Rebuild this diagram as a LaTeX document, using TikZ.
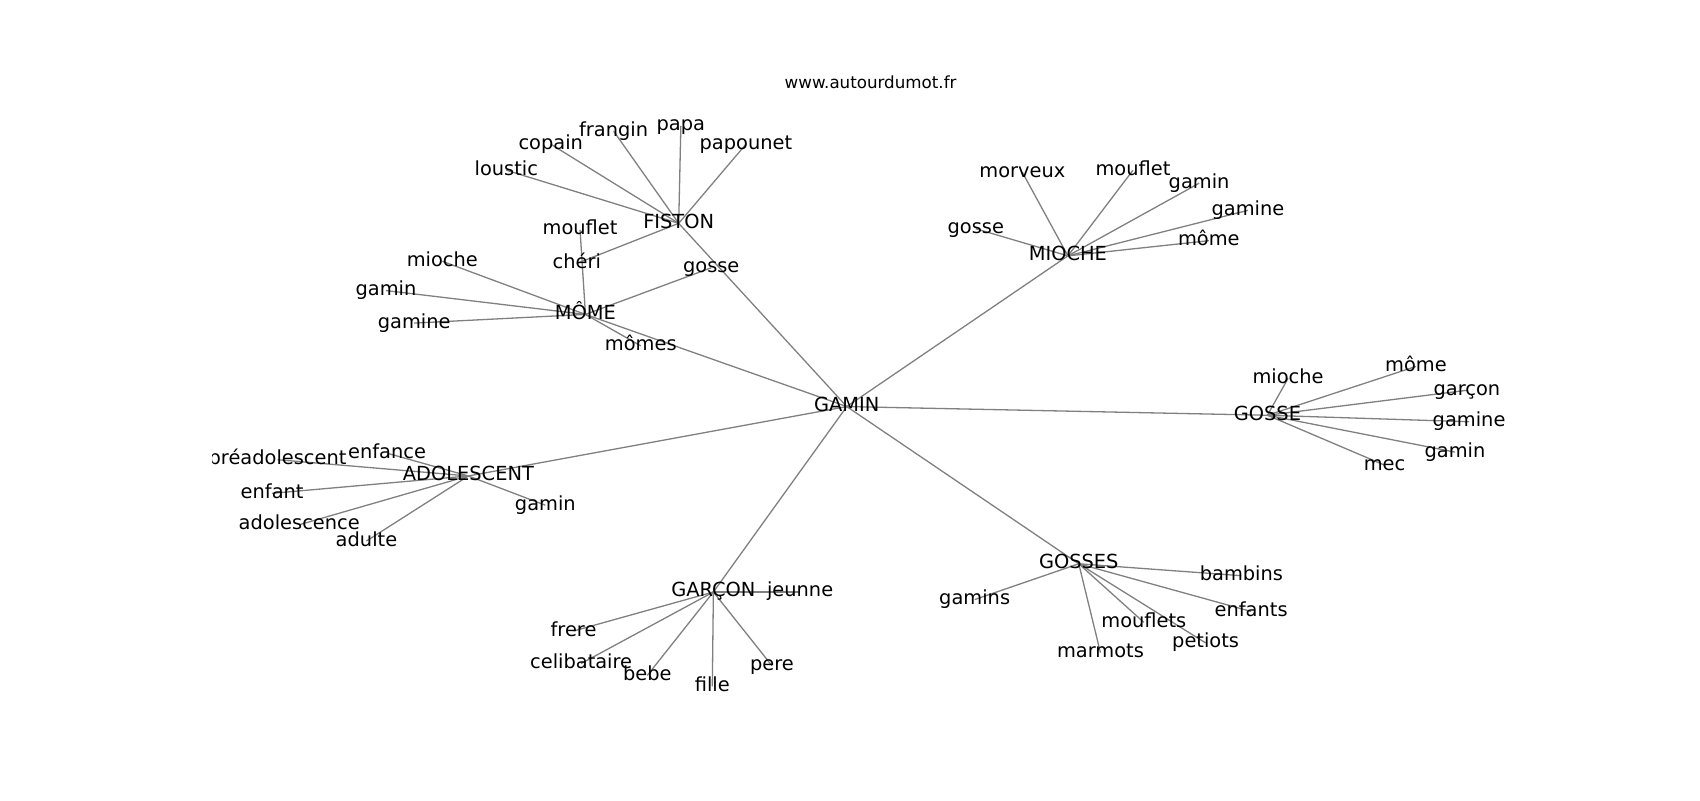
\documentclass[tikz,border=0pt]{standalone}
\usepackage{fontspec}
\setmainfont{DejaVu Sans}
\begin{document}
\begin{tikzpicture}[x=1.0842pt,y=-1.0842pt,
  edge/.style={draw={rgb,255:red,128;green,128;blue,128},line width=1.3pt},
  lab/.style={anchor=base,inner sep=0pt,yshift=-5pt,font=\fontsize{19.4}{23}\selectfont},
  ttl/.style={anchor=base,inner sep=0pt,yshift=-4.3pt,font=\fontsize{16.7}{20}\selectfont}]
\useasboundingbox (0,0) rectangle (1568,738);
% points
\coordinate (GAMIN) at (781,375);
\coordinate (FISTON) at (626,206);
\coordinate (loustic) at (467,157);
\coordinate (copain) at (508,133);
\coordinate (frangin) at (566,121);
\coordinate (papa) at (628,116);
\coordinate (papounet) at (688,133);
\coordinate (cheri) at (532,243);
\coordinate (MOME) at (540,290);
\coordinate (mouflet1) at (535,212);
\coordinate (mioche1) at (408,241);
\coordinate (gamin1) at (356,268);
\coordinate (gamine1) at (382,298);
\coordinate (momes) at (591,319);
\coordinate (gosse1) at (656,247);
\coordinate (MIOCHE) at (985,236);
\coordinate (morveux) at (943,159);
\coordinate (mouflet2) at (1045,157);
\coordinate (gamin2) at (1106,169);
\coordinate (gamine2) at (1151,194);
\coordinate (mome2) at (1115,222);
\coordinate (gosse2) at (900,211);
\coordinate (GOSSE) at (1169,383);
\coordinate (mioche3) at (1188,349);
\coordinate (mome3) at (1306,338);
\coordinate (garcon3) at (1353,360);
\coordinate (gamine3) at (1355,389);
\coordinate (gamin3) at (1342,417);
\coordinate (mec) at (1277,429);
\coordinate (GOSSES) at (995,520);
\coordinate (gamins) at (899,553);
\coordinate (bambins) at (1145,531);
\coordinate (enfants) at (1154,564);
\coordinate (mouflets) at (1055,574);
\coordinate (petiots) at (1112,593);
\coordinate (marmots) at (1015,602);
\coordinate (GARCON) at (658,546);
\coordinate (jeunne) at (738,546);
\coordinate (frere) at (529,582);
\coordinate (celibataire) at (536,612);
\coordinate (bebe) at (597,623);
\coordinate (fille) at (657,633);
\coordinate (pere) at (712,614);
\coordinate (ADO) at (432,439);
\coordinate (preado) at (256,424);
\coordinate (enfance) at (357,418);
\coordinate (enfant) at (251,455);
\coordinate (adolescence) at (276,484);
\coordinate (adulte) at (338,499);
\coordinate (gamin4) at (503,466);
% edges
\foreach \h in {FISTON,MOME,MIOCHE,GOSSE,GOSSES,GARCON,ADO}
  \draw[edge] (GAMIN) -- (\h);
\foreach \c in {loustic,copain,frangin,papa,papounet,cheri}
  \draw[edge] (FISTON) -- (\c);
\foreach \c in {mouflet1,mioche1,gamin1,gamine1,momes,gosse1}
  \draw[edge] (MOME) -- (\c);
\foreach \c in {morveux,mouflet2,gamin2,gamine2,mome2,gosse2}
  \draw[edge] (MIOCHE) -- (\c);
\foreach \c in {mioche3,mome3,garcon3,gamine3,gamin3,mec}
  \draw[edge] (GOSSE) -- (\c);
\foreach \c in {gamins,bambins,enfants,mouflets,petiots,marmots}
  \draw[edge] (GOSSES) -- (\c);
\foreach \c in {jeunne,frere,celibataire,bebe,fille,pere}
  \draw[edge] (GARCON) -- (\c);
\foreach \c in {preado,enfance,enfant,adolescence,adulte,gamin4}
  \draw[edge] (ADO) -- (\c);
% labels
\node[ttl] (title) at (803,78) {www.autourdumot.fr};
\begin{scope}
\clip (196,0) rectangle (1568,738);
\node[lab] (tGAMIN) at (GAMIN) {GAMIN};
\node[lab] (tFISTON) at (FISTON) {FISTON};
\node[lab] (tloustic) at (loustic) {loustic};
\node[lab] (tcopain) at (copain) {copain};
\node[lab] (tfrangin) at (frangin) {frangin};
\node[lab] (tpapa) at (papa) {papa};
\node[lab] (tpapounet) at (papounet) {papounet};
\node[lab] (tcheri) at (cheri) {chéri};
\node[lab] (tMOME) at (MOME) {MÔME};
\node[lab] (tmouflet1) at (mouflet1) {mouflet};
\node[lab] (tmioche1) at (mioche1) {mioche};
\node[lab] (tgamin1) at (gamin1) {gamin};
\node[lab] (tgamine1) at (gamine1) {gamine};
\node[lab] (tmomes) at (momes) {mômes};
\node[lab] (tgosse1) at (gosse1) {gosse};
\node[lab] (tMIOCHE) at (MIOCHE) {MIOCHE};
\node[lab] (tmorveux) at (morveux) {morveux};
\node[lab] (tmouflet2) at (mouflet2) {mouflet};
\node[lab] (tgamin2) at (gamin2) {gamin};
\node[lab] (tgamine2) at (gamine2) {gamine};
\node[lab] (tmome2) at (mome2) {môme};
\node[lab] (tgosse2) at (gosse2) {gosse};
\node[lab] (tGOSSE) at (GOSSE) {GOSSE};
\node[lab] (tmioche3) at (mioche3) {mioche};
\node[lab] (tmome3) at (mome3) {môme};
\node[lab] (tgarcon3) at (garcon3) {garçon};
\node[lab] (tgamine3) at (gamine3) {gamine};
\node[lab] (tgamin3) at (gamin3) {gamin};
\node[lab] (tmec) at (mec) {mec};
\node[lab] (tGOSSES) at (GOSSES) {GOSSES};
\node[lab] (tgamins) at (gamins) {gamins};
\node[lab] (tbambins) at (bambins) {bambins};
\node[lab] (tenfants) at (enfants) {enfants};
\node[lab] (tmouflets) at (mouflets) {mouflets};
\node[lab] (tpetiots) at (petiots) {petiots};
\node[lab] (tmarmots) at (marmots) {marmots};
\node[lab] (tGARCON) at (GARCON) {GARÇON};
\node[lab] (tjeunne) at (jeunne) {jeunne};
\node[lab] (tfrere) at (frere) {frere};
\node[lab] (tcelibataire) at (celibataire) {celibataire};
\node[lab] (tbebe) at (bebe) {bebe};
\node[lab] (tfille) at (fille) {fille};
\node[lab] (tpere) at (pere) {pere};
\node[lab] (tADO) at (ADO) {ADOLESCENT};
\node[lab] (tpreado) at (preado) {préadolescent};
\node[lab] (tenfance) at (enfance) {enfance};
\node[lab] (tenfant) at (enfant) {enfant};
\node[lab] (tadolescence) at (adolescence) {adolescence};
\node[lab] (tadulte) at (adulte) {adulte};
\node[lab] (tgamin4) at (gamin4) {gamin};
\end{scope}
\end{tikzpicture}
\end{document}
